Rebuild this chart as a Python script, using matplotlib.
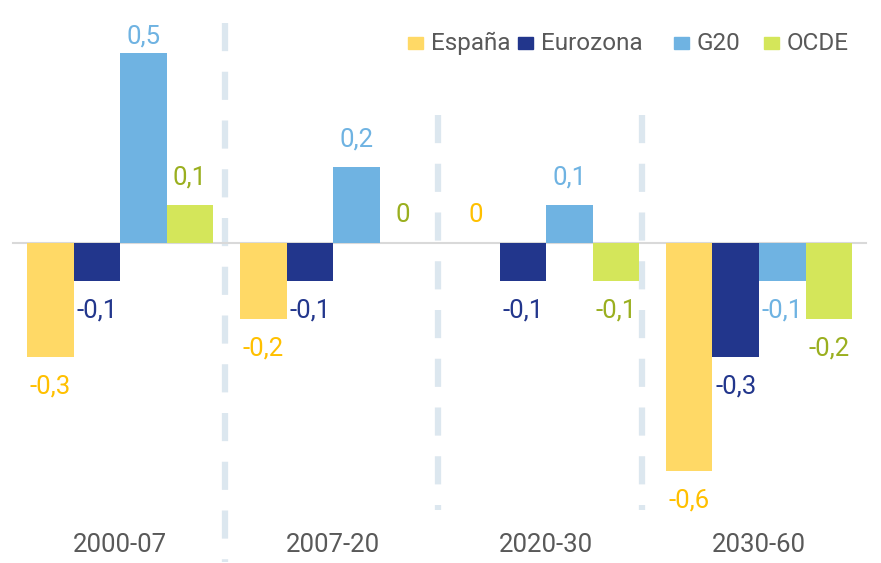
import matplotlib.pyplot as plt
from matplotlib.patches import Rectangle

plt.rcParams['font.family'] = ['Roboto', 'DejaVu Sans']

periodos = ['2000-07', '2007-20', '2020-30', '2030-60']
series = ['España', 'Eurozona', 'G20', 'OCDE']
espana = [-0.3, -0.2, 0.0, -0.6]
eurozona = [-0.1, -0.1, -0.1, -0.3]
g20 = [0.5, 0.2, 0.1, -0.1]
ocde = [0.1, 0.0, -0.1, -0.2]
etiquetas = {
    'España': ['-0,3', '-0,2', '0', '-0,6'],
    'Eurozona': ['-0,1', '-0,1', '-0,1', '-0,3'],
    'G20': ['0,5', '0,2', '0,1', '-0,1'],
    'OCDE': ['0,1', '0', '-0,1', '-0,2'],
}

colores = ['#FFD966', '#22368C', '#6FB3E2', '#D4E65A']
col_texto = ['#FFC000', '#22368C', '#6FB3E2', '#9AAF1F']

W, H = 881, 563
fig = plt.figure(figsize=(W / 100, H / 100), dpi=100)
ax = fig.add_axes([0, 0, 1, 1])
ax.set_xlim(-120 / 213, 761 / 213)
ax.set_ylim(-320 / 380, 243 / 380)
ax.axis('off')

w = 46.5 / 213
valores = [espana, eurozona, g20, ocde]
for j, (nombre, vals) in enumerate(zip(series, valores)):
    xs = [i + (j - 1.5) * w for i in range(len(periodos))]
    ax.bar(xs, vals, width=w, color=colores[j], zorder=3)
    for x, v, t in zip(xs, vals, etiquetas[nombre]):
        if v < 0:
            off = -21
        elif v > 0.4:
            off = 12  # pegada al borde superior
        else:
            off = 20
        ax.annotate(t, (x, v), xytext=(0, off), textcoords='offset points',
                    ha='center', va='center', fontsize=18.5, color=col_texto[j])

ax.axhline(0, xmin=13 / W, xmax=866 / W, color='#D9D9D9', lw=1.5, zorder=2)

# separadores
ax.plot([0.493, 0.493], [0.58, -0.84], color='#DCE7EF', lw=4.5,
        dashes=(4.5, 3.3), zorder=1)
for xs in [1.493, 2.45]:
    ax.plot([xs, xs], [0.337, -0.703], color='#DCE7EF', lw=4.5,
            dashes=(4.5, 3.3), zorder=1)

for i, p in enumerate(periodos):
    ax.text(i, -302 / 380, p, ha='center', va='center', fontsize=18.5, color='#595959')

# leyenda manual
leg_x = [408, 518, 674, 764]
for px, c, s in zip(leg_x, colores, series):
    fig.patches.append(Rectangle((px / W, 1 - 49 / H), 15 / W, 12 / H,
                                 transform=fig.transFigure, color=c, zorder=5))
    fig.text((px + 23) / W, 1 - 43 / H, s, ha='left', va='center',
             fontsize=17.5, color='#595959')

fig.savefig('out.png', dpi=100)
